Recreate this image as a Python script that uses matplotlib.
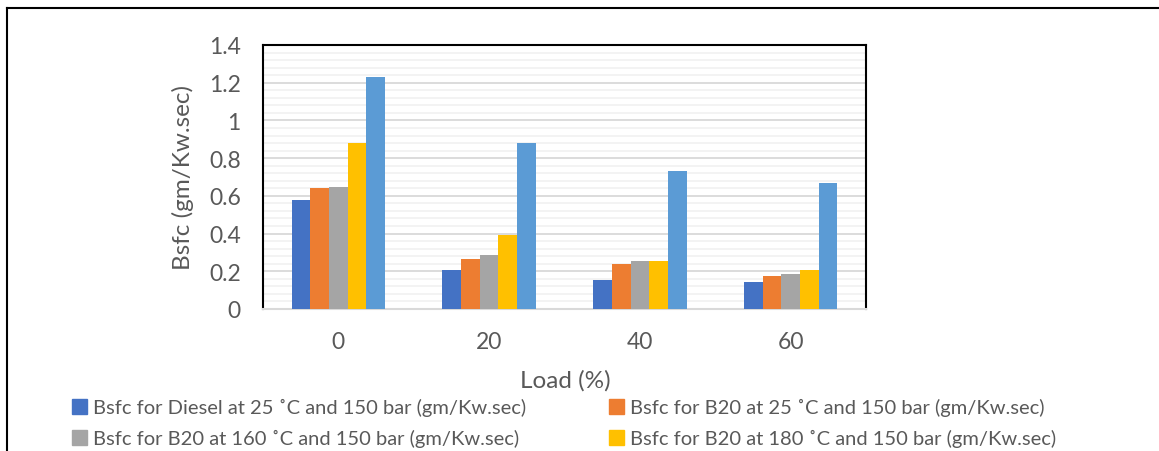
#!/usr/bin/env python3
import numpy as np
import matplotlib
matplotlib.use('Agg')
import matplotlib.pyplot as pl
from matplotlib.lines import Line2D
from matplotlib.patches import Patch

# Data
loads = ['0', '20', '40', '60']
diesel_25 = [0.578, 0.207, 0.154, 0.141]
b20_25 = [0.642, 0.265, 0.237, 0.177]
b20_160 = [0.649, 0.288, 0.253, 0.186]
b20_180 = [0.880, 0.390, 0.255, 0.208]
b20_200 = [1.230, 0.878, 0.730, 0.668]

labels = ['Bsfc for Diesel at 25 \u02daC and 150 bar (gm/Kw.sec)',
          'Bsfc for B20 at 25 \u02daC and 150 bar (gm/Kw.sec)',
          'Bsfc for B20 at 160 \u02daC and 150 bar (gm/Kw.sec)',
          'Bsfc for B20 at 180 \u02daC and 150 bar (gm/Kw.sec)',
          'Bsfc for B20 at 200 \u02daC and 150 bar (gm/Kw.sec)']
colors = ['#4472C4', '#ED7D31', '#A5A5A5', '#FFC000', '#5B9BD5']
text_color = '#595959'

pl.rcParams['font.family'] = ['Lato', 'DejaVu Sans']

#######################################################
W, H = 1159, 452
fig = pl.figure(figsize=(W / 100, H / 100), dpi=100)
ax = fig.add_axes([263 / W, 1 - 310 / H, (866 - 263) / W, (310 - 46) / H])

series = [diesel_25, b20_25, b20_160, b20_180, b20_200]
x = np.arange(len(loads))
bw = 0.124
for i, vals in enumerate(series):
    ax.bar(x + (i - 2) * bw, vals, bw, color=colors[i], zorder=3)

ax.set_xlim(-0.5, len(loads) - 0.5)
ax.set_ylim(0, 1.4)
ax.set_yticks(np.arange(0, 1.41, 0.2))
ax.set_yticklabels(['0', '0.2', '0.4', '0.6', '0.8', '1', '1.2', '1.4'])
ax.set_yticks(np.arange(0, 1.401, 0.04), minor=True)
ax.set_xticks(x)
ax.set_xticklabels(loads)
ax.grid(axis='y', which='major', color='#D9D9D9', linewidth=1.3, zorder=0)
ax.grid(axis='y', which='minor', color='#F2F2F2', linewidth=1.3, zorder=0)
ax.tick_params(which='both', length=0, labelsize=16.5, colors=text_color)
ax.tick_params(axis='y', pad=16)
ax.tick_params(axis='x', pad=16)
for s in ['left', 'top', 'right']:
    ax.spines[s].set_color('black')
    ax.spines[s].set_linewidth(1.5)
ax.spines['bottom'].set_color('#D9D9D9')
ax.spines['bottom'].set_linewidth(1.5)

ax.set_ylabel('Bsfc (gm/Kw.sec)', fontsize=17.5, color=text_color, labelpad=11)
fig.text(565 / W, 1 - 381 / H, 'Load (%)', fontsize=17.5, color=text_color,
         ha='center', va='center')

# legend (only four entries visible in the cropped picture)
handles = [Patch(color=colors[i]) for i in range(4)]
order = [0, 2, 1, 3]
leg = fig.legend([handles[i] for i in order], [labels[i] for i in order],
                 ncol=2, loc='upper left', bbox_to_anchor=(58 / W, 1 - 385 / H),
                 frameon=False, fontsize=14.5, handlelength=0.75, handleheight=0.75,
                 handletextpad=0.3, columnspacing=4.1, labelspacing=0.65,
                 borderpad=0.2)
for t in leg.get_texts():
    t.set_color(text_color)

# outer chart frame
fig.add_artist(Line2D([7 / W, 7 / W], [0, 1 - 9 / H], color='black', lw=1.5,
                      transform=fig.transFigure))
fig.add_artist(Line2D([7 / W, 1], [1 - 9 / H, 1 - 9 / H], color='black', lw=1.5,
                      transform=fig.transFigure))

pl.savefig('out.png', dpi=100)
pl.close()
